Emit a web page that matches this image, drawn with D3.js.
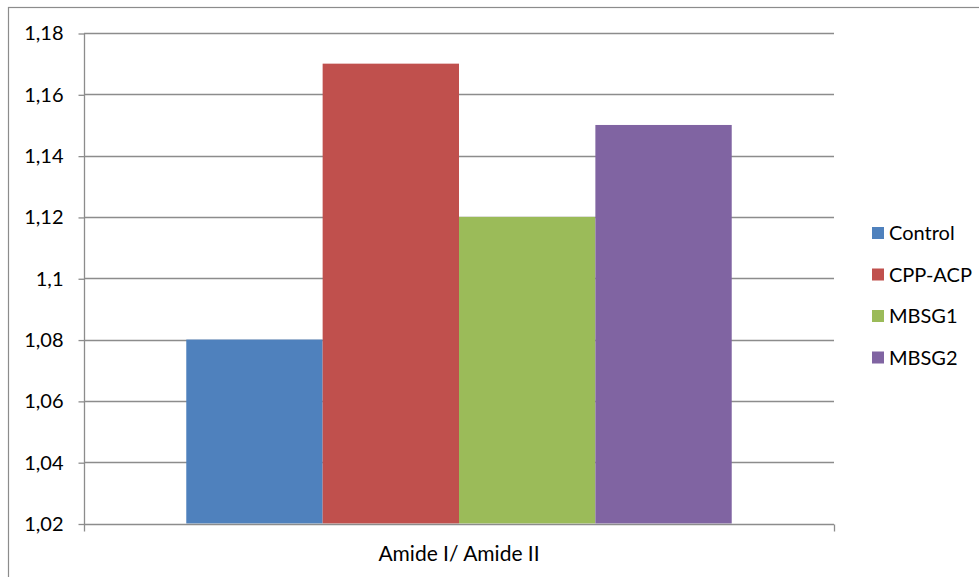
<!DOCTYPE html>
<html>
<head>
<meta charset="utf-8">
<script src="https://d3js.org/d3.v7.min.js"></script>
<style>
  html, body { margin: 0; padding: 0; background: #fff; }
  svg { display: block; }
  text { font-family: Lato, "Open Sans", sans-serif; fill: #000; }
</style>
</head>
<body>
<svg id="chart" width="979" height="577"></svg>
<script>
const categories = ["Amide I/ Amide II"];
const seriesNames = ["Control", "CPP-ACP", "MBSG1", "MBSG2"];
const seriesValues = [1.08, 1.17, 1.12, 1.15];
const seriesColors = ["#4F81BD", "#C0504D", "#9BBB59", "#8064A2"];
const yTicks = [1.02, 1.04, 1.06, 1.08, 1.10, 1.12, 1.14, 1.16, 1.18];
const yTickLabels = ["1,02", "1,04", "1,06", "1,08", "1,1", "1,12", "1,14", "1,16", "1,18"];

const svg = d3.select("#chart");
const W = 979, H = 577;
const plot = { left: 84, right: 834, top: 33, bottom: 523.5 };
const grid = "#8c8c8c";
const FONT = "Lato, 'Open Sans', sans-serif";

// outer border
svg.append("rect")
  .attr("x", 8.5).attr("y", 7.5)
  .attr("width", W + 10).attr("height", H + 10)
  .attr("fill", "#fff").attr("stroke", grid).attr("stroke-width", 1.2);

const y = d3.scaleLinear().domain([1.02, 1.18]).range([plot.bottom, plot.top]);
const x0 = d3.scaleBand().domain(categories).range([plot.left, plot.right]).padding(0);
const x1 = d3.scaleBand().domain(seriesNames).range([0, x0.bandwidth()])
  .paddingInner(0).paddingOuter(0.75);

// gridlines
svg.append("g").selectAll("line").data(yTicks.slice(1)).join("line")
  .attr("x1", plot.left).attr("x2", plot.right)
  .attr("y1", d => Math.round(y(d)) + 0.5).attr("y2", d => Math.round(y(d)) + 0.5)
  .attr("stroke", grid).attr("stroke-width", 1.3);

// bars
const data = seriesNames.map((s, i) => ({ s, v: seriesValues[i], c: seriesColors[i] }));
svg.append("g").selectAll("rect").data(data).join("rect")
  .attr("x", d => x0(categories[0]) + x1(d.s))
  .attr("width", x1.bandwidth())
  .attr("y", d => y(d.v))
  .attr("height", d => y(1.02) - y(d.v))
  .attr("fill", d => d.c);

// y axis
const yAxis = d3.axisLeft(y).tickValues(yTicks)
  .tickFormat((d, i) => yTickLabels[i]).tickSize(6).tickPadding(15);
const gy = svg.append("g").attr("transform", `translate(${plot.left + 0.5},0.5)`).call(yAxis);
gy.selectAll("line").attr("stroke", grid).attr("stroke-width", 1.3);
gy.select(".domain").attr("stroke", grid).attr("stroke-width", 1.3).attr("d", `M0,${plot.top}V${plot.bottom}`);
gy.selectAll("text").attr("font-size", 20).attr("font-family", FONT).attr("fill", "#000");

// x axis
const xAxis = d3.axisBottom(x0).tickSize(0).tickPadding(22);
const gx = svg.append("g").attr("transform", `translate(0,${Math.round(plot.bottom) + 0.5})`).call(xAxis);
gx.select(".domain").attr("stroke", grid).attr("stroke-width", 1.3)
  .attr("d", `M${plot.left},0H${plot.right}`);
gx.selectAll("text").attr("font-size", 21).attr("font-family", FONT).attr("fill", "#000");
// category boundary ticks
gx.append("g").selectAll("line").data([plot.left, plot.right]).join("line")
  .attr("x1", d => d + 0.5).attr("x2", d => d + 0.5)
  .attr("y1", 0).attr("y2", 7)
  .attr("stroke", grid).attr("stroke-width", 1.3);

// legend
const legend = svg.append("g").attr("transform", "translate(872,227)");
const item = legend.selectAll("g").data(data).join("g")
  .attr("transform", (d, i) => `translate(0,${i * 41.5})`);
item.append("rect").attr("width", 12).attr("height", 12).attr("fill", d => d.c);
item.append("text").attr("x", 17).attr("y", 6).attr("dy", "0.35em")
  .attr("font-size", 20).text(d => d.s);
</script>
</body>
</html>
